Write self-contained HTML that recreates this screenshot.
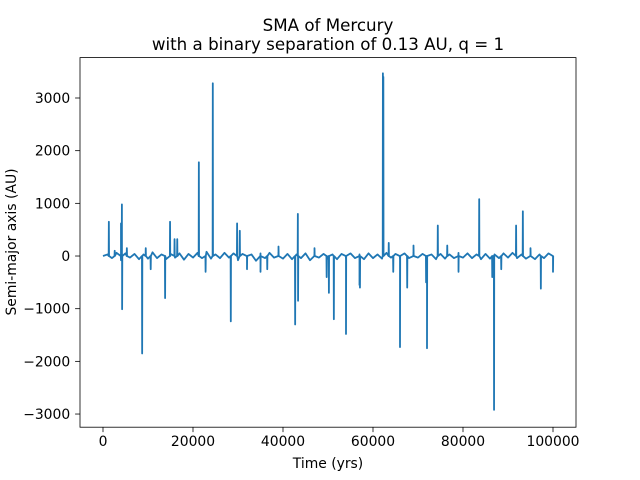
<!DOCTYPE html>
<html><head><meta charset="utf-8">
<style>
html,body{margin:0;padding:0;background:#fff;}
svg{display:block;font-family:"DejaVu Sans","Liberation Sans",sans-serif;}
</style></head>
<body>
<svg id="chart" width="640" height="480" viewBox="0 0 640 480">
<rect width="640" height="480" fill="#fff"/>
<text x="328" y="31" text-anchor="middle" font-size="16.7">SMA of Mercury</text>
<text x="328" y="50" text-anchor="middle" font-size="16.7">with a binary separation of 0.13 AU, q = 1</text>
<g id="plot"></g>
<g id="axes"></g>
<text x="328" y="468" text-anchor="middle" font-size="13.9">Time (yrs)</text>
<text transform="translate(16,242) rotate(-90)" text-anchor="middle" font-size="13.9">Semi-major axis (AU)</text>
</svg>
<script>
const xTicks = [0, 20000, 40000, 60000, 80000, 100000];
const yTicks = [-3000, -2000, -1000, 0, 1000, 2000, 3000];
const spikeTimes = [1300,2600,4000,4200,4250,5300,8700,9500,10600,13800,14900,15900,16500,21300,22800,24400,28400,29800,30400,32000,35000,36500,39000,42700,43300,43350,47000,49700,50200,51300,54000,57000,57100,62200,62300,63500,64500,66000,67600,69000,71800,72000,74400,76500,79000,83600,86500,86900,88500,91800,93300,95000,97300,100000];
const spikeValues = [650,100,620,980,-1010,150,-1850,150,-250,-800,650,320,320,1780,-300,3280,-1240,620,480,-250,-300,-250,180,-1300,800,-850,150,-400,-700,-1200,-1480,-550,-600,3470,3400,250,-300,-1730,-600,200,-500,-1750,580,200,-300,1080,-400,-2920,-250,580,850,150,-620,-300];
const baseValues = [0,30,-40,60,-80,50,-30,40,-60,30,-50,70,-40,30,-60,40,-30,50,-70,40,-30,60,-40,80,-50,30,-40,60,-30,50,-80,40,-60,30,-90,50,-40,60,-30,70,-50,40,-60,30,-40,50,-80,60,-30,40,-50,30,-60,40,-70,50,-40,30,-60,50,-40,30,-50,60,-30,40,-70,50,-40,60,-30,40,-50,30,-60,40,-50,30,-40,60,-30,50,-40,30,-60,40,-50,30,-40,50,-30,60,-40,30,-50,40,-60,30,-40,50,0];

const X0=80,X1=576,Y0=57.6,Y1=427.2;
const xMin=-5111,xMax=105111,yMin=-3250,yMax=3767;
const xs=v=>X0+(v-xMin)/(xMax-xMin)*(X1-X0);
const ys=v=>Y1-(v-yMin)/(yMax-yMin)*(Y1-Y0);
const NS="http://www.w3.org/2000/svg";
const plot=document.getElementById('plot'), axes=document.getElementById('axes');

const pts=[];
baseValues.forEach((v,i)=>pts.push([i*1000,v]));
spikeTimes.forEach((t,i)=>{pts.push([t-40,0]);pts.push([t,spikeValues[i]]);pts.push([t+40,0]);});
pts.sort((a,b)=>a[0]-b[0]);

const line=document.createElementNS(NS,'polyline');
line.setAttribute('points',pts.map(p=>xs(p[0]).toFixed(2)+','+ys(p[1]).toFixed(2)).join(' '));
line.setAttribute('fill','none');line.setAttribute('stroke','#1f77b4');line.setAttribute('stroke-width','1.8');line.setAttribute('stroke-linejoin','round');


plot.appendChild(line);

const frame=document.createElementNS(NS,'rect');
frame.setAttribute('x',X0);frame.setAttribute('y',Y0);frame.setAttribute('width',X1-X0);frame.setAttribute('height',Y1-Y0);
frame.setAttribute('fill','none');frame.setAttribute('stroke','#000');frame.setAttribute('stroke-width','0.8');


axes.appendChild(frame);

xTicks.forEach(t=>{
  const x=xs(t);
  const tk=document.createElementNS(NS,'line');
  tk.setAttribute('x1',x);tk.setAttribute('x2',x);tk.setAttribute('y1',Y1);tk.setAttribute('y2',Y1+4.9);tk.setAttribute('stroke','#000');tk.setAttribute('stroke-width','0.8');
  
  
  axes.appendChild(tk);
  const lb=document.createElementNS(NS,'text');
  lb.setAttribute('x',x);lb.setAttribute('y',Y1+19);lb.setAttribute('text-anchor','middle');lb.setAttribute('font-size','13.9');
  lb.textContent=String(t);
  
  
  axes.appendChild(lb);
});
yTicks.forEach(t=>{
  const y=ys(t);
  const tk=document.createElementNS(NS,'line');
  tk.setAttribute('x1',X0-4.9);tk.setAttribute('x2',X0);tk.setAttribute('y1',y);tk.setAttribute('y2',y);tk.setAttribute('stroke','#000');tk.setAttribute('stroke-width','0.8');
  
  
  axes.appendChild(tk);
  const lb=document.createElementNS(NS,'text');
  lb.setAttribute('x',X0-9.8);lb.setAttribute('y',y+5);lb.setAttribute('text-anchor','end');lb.setAttribute('font-size','13.9');
  lb.textContent=t<0?'\u2212'+Math.abs(t):String(t);
  
  
  axes.appendChild(lb);
});
</script>
</body></html>
